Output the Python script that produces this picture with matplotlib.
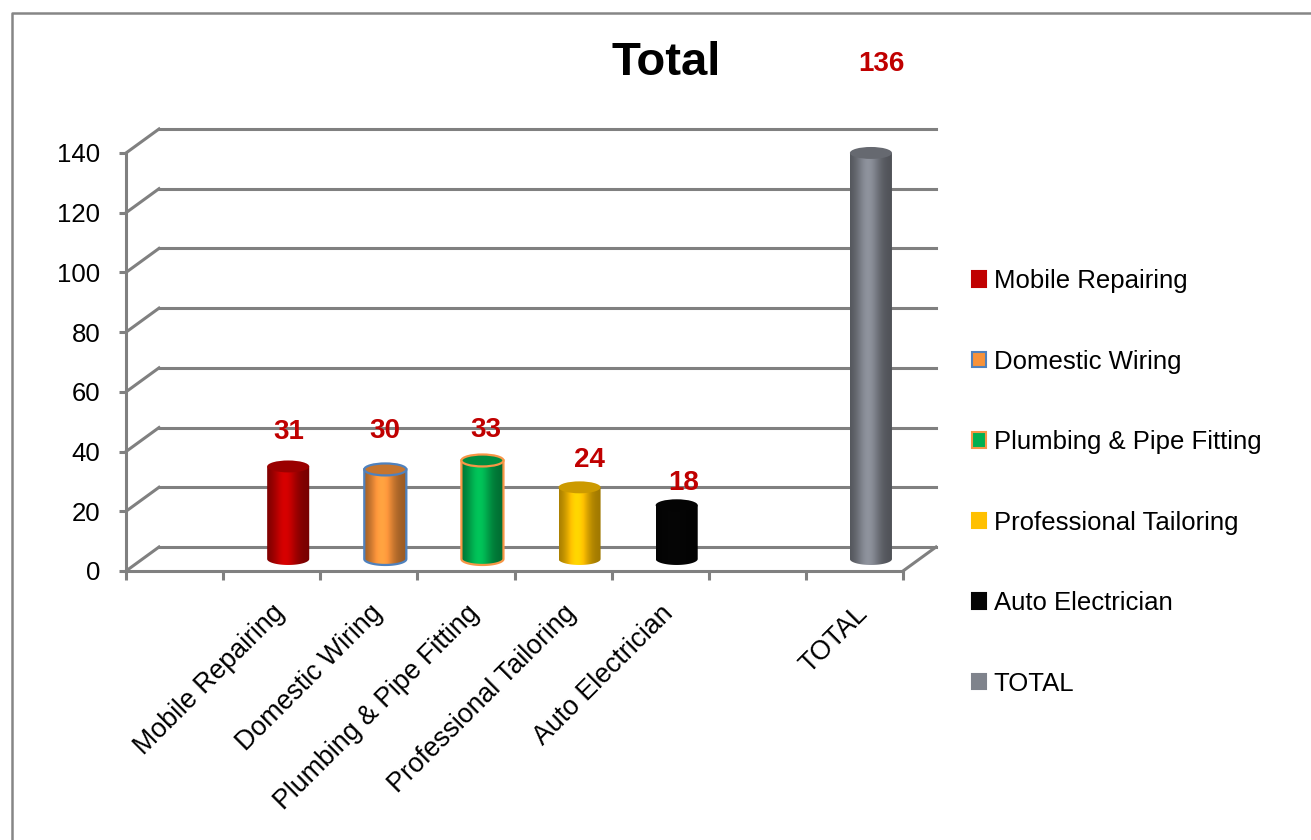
import numpy as np
import matplotlib
matplotlib.use("Agg")
import matplotlib.pyplot as plt
from matplotlib import transforms
from matplotlib.patches import Polygon, Ellipse, Patch
from matplotlib.lines import Line2D
from matplotlib.colors import to_rgb

# data
categories = ["", "Mobile Repairing", "Domestic Wiring", "Plumbing & Pipe Fitting",
              "Professional Tailoring", "Auto Electrician", "", "TOTAL"]
series = ["Mobile Repairing", "Domestic Wiring", "Plumbing & Pipe Fitting",
          "Professional Tailoring", "Auto Electrician", "TOTAL"]
slots = [1, 2, 3, 4, 5, 7]
values = [31, 30, 33, 24, 18, 136]
y_ticks = [0, 20, 40, 60, 80, 100, 120, 140]

# style
body_colors = ["#C00000", "#F7923A", "#00B050", "#FFC000", "#050505", "#7F838C"]
edge_colors = [None, "#4F81BD", "#F79646", None, None, None]
label_px = [(1, 34), (0, 38), (3, 30), (10, 27), (7, 22), (11, 89)]
grid_col = "#808080"
lab_col = "#C00000"

plt.rcParams["font.family"] = ["Liberation Sans", "DejaVu Sans"]

fig = plt.figure(figsize=(13.11, 8.4), dpi=100)
W, H = 1311, 840
ax = fig.add_axes([126 / W, 1 - 571 / H, (903 - 126) / W, (571 - 153) / H])
ax.set_xlim(-0.5, 7.5)
ax.set_ylim(0, 140)

depth = (0.33, 0.24)  # inches, back wall offset
back = ax.transData + transforms.ScaledTranslation(depth[0], depth[1], fig.dpi_scale_trans)
mid = ax.transData + transforms.ScaledTranslation(depth[0] / 2, depth[1] / 2, fig.dpi_scale_trans)

# back wall gridlines + diagonals
for v in y_ticks:
    ax.add_line(Line2D([-0.5, 7.5], [v, v], transform=back, color=grid_col, lw=2.2,
                       zorder=1, clip_on=False))
    tr = fig.dpi_scale_trans + transforms.ScaledTranslation(-0.5, v, ax.transData)
    ax.add_line(Line2D([0, depth[0]], [0, depth[1]], transform=tr, color=grid_col, lw=2.2,
                       zorder=1, clip_on=False))
tr = fig.dpi_scale_trans + transforms.ScaledTranslation(7.5, 0, ax.transData)
ax.add_line(Line2D([0, depth[0]], [0, depth[1]], transform=tr, color=grid_col, lw=2.2,
                   zorder=1, clip_on=False))


def shade(color, n=80):
    base = np.array(to_rgb(color))
    t = np.linspace(0, 1, n)
    f = 0.62 + 0.5 * np.exp(-((t - 0.42) / 0.28) ** 2)
    return np.clip(base[None, :] * f[:, None], 0, 1)[None, :, :]


bw = 0.433
eh = 4.0
for xc, v, c, ec in zip(slots, values, body_colors, edge_colors):
    t = np.linspace(np.pi, 2 * np.pi, 50)
    verts = [(xc - bw / 2, v)] + list(zip(xc + bw / 2 * np.cos(t), eh / 2 * np.sin(t))) + [(xc + bw / 2, v)]
    poly = Polygon(verts, closed=True, transform=mid, facecolor="none",
                   edgecolor=ec if ec else "none", lw=1.6, zorder=3.5)
    ax.add_patch(poly)
    im = ax.imshow(shade(c), extent=(xc - bw / 2, xc + bw / 2, -eh / 2, v), aspect="auto",
                   transform=mid, zorder=3, interpolation="bilinear")
    im.set_clip_path(poly)
    top = np.clip(np.array(to_rgb(c)) * 0.8, 0, 1)
    ax.add_patch(Ellipse((xc, v), bw, eh, transform=mid, facecolor=top,
                         edgecolor=ec if ec else "none", lw=1.6, zorder=4, clip_on=False))

for xc, v, (dx, dy) in zip(slots, values, label_px):
    ax.annotate(str(v), xy=(xc, v), xycoords=mid, xytext=(dx * 0.72, dy * 0.72),
                textcoords="offset points", ha="center", va="center", fontsize=20,
                fontweight="bold", color=lab_col, annotation_clip=False)

ax.set_xlim(-0.5, 7.5)
ax.set_ylim(0, 140)

for s in ["top", "right"]:
    ax.spines[s].set_visible(False)
for s in ["left", "bottom"]:
    ax.spines[s].set_color(grid_col)
    ax.spines[s].set_linewidth(2.2)

ax.set_yticks(y_ticks)
ax.tick_params(axis="y", length=5, width=2.2, color=grid_col, pad=13.5, labelsize=18.5)
ax.set_xticks(range(len(categories)))
ax.set_xticklabels(categories, rotation=45, ha="right", rotation_mode="anchor", fontsize=19.3)
ax.tick_params(axis="x", which="major", length=0, pad=21)
ax.set_xticks(np.arange(-0.5, 8, 1), minor=True)
ax.tick_params(axis="x", which="minor", length=6.5, width=2.2, color=grid_col)
ax.patch.set_visible(False)

fig.text(666 / W, 1 - 63 / H, "Total", ha="center", va="center", fontsize=34, fontweight="bold")

handles = [Patch(facecolor=c, edgecolor=ec if ec else c, lw=1.5) for c, ec in zip(body_colors, edge_colors)]
fig.legend(handles, series, loc="center left", bbox_to_anchor=(972 / W, 1 - 482.5 / H),
           frameon=False, fontsize=18.5, handlelength=0.55, handleheight=0.55,
           handletextpad=0.3, labelspacing=2.2, borderpad=0, borderaxespad=0)

fig.add_artist(Line2D([12 / W, 12 / W, 1.0], [0, 1 - 13 / H, 1 - 13 / H], transform=fig.transFigure,
                      color="#868686", lw=1.8))

fig.savefig("out.png", dpi=100)
